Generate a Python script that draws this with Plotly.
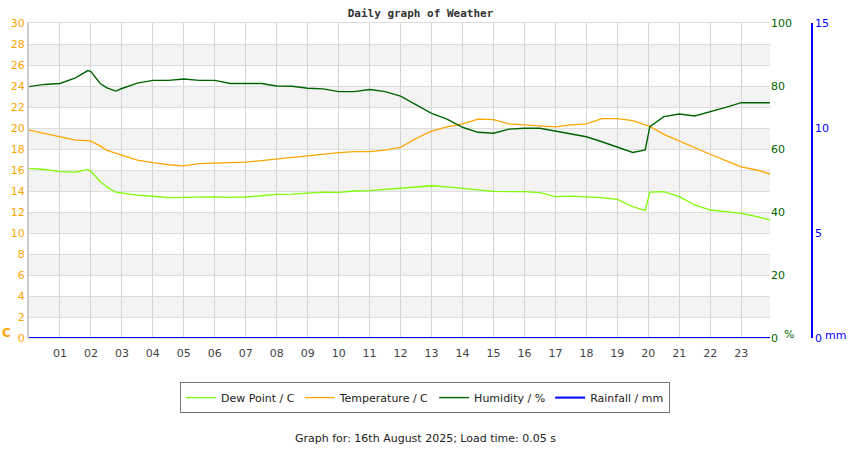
import plotly.graph_objects as go

# readings, hours since midnight
hours = [0, 0.5, 1, 1.5, 1.9, 2, 2.3, 2.5, 2.8, 3, 3.5, 4, 4.5, 5, 5.5, 6, 6.5, 7, 7.5, 8,
         8.5, 9, 9.5, 10, 10.5, 11, 11.5, 12, 12.5, 13, 13.5, 14, 14.5, 15, 15.5, 16, 16.5,
         17, 17.5, 18, 18.5, 19, 19.5, 19.9, 20.05, 20.5, 21, 21.5, 22, 22.5, 23, 23.5, 23.95]

temperature_c = [19.8, 19.5, 19.2, 18.85, 18.8, 18.75, 18.3, 17.9, 17.6, 17.4, 16.95, 16.7, 16.5,
                 16.4, 16.6, 16.65, 16.7, 16.75, 16.9, 17.05, 17.25, 17.35, 17.55, 17.65, 17.75,
                 17.75, 17.9, 18.15, 19.0, 19.7, 20.1, 20.4, 20.85, 20.8, 20.4, 20.3, 20.15, 20.1,
                 20.3, 20.4, 20.9, 20.9, 20.7, 20.3, 20.15, 19.4, 18.75, 18.1, 17.5, 16.9, 16.3,
                 16.0, 15.6]

dew_point_c = [16.15, 16.05, 15.85, 15.8, 16.05, 15.85, 14.9, 14.4, 13.9, 13.8, 13.6, 13.5, 13.37,
               13.4, 13.45, 13.45, 13.4, 13.43, 13.55, 13.68, 13.7, 13.78, 13.9, 13.87, 14.0,
               14.03, 14.15, 14.2, 14.38, 14.5, 14.4, 14.25, 14.13, 13.97, 13.94, 13.94, 13.84,
               13.46, 13.52, 13.46, 13.37, 13.2, 12.5, 12.16, 13.9, 13.94, 13.46, 12.67, 12.19,
               12.03, 11.87, 11.55, 11.24]

humidity_pct = [79.8, 80.5, 80.8, 82.6, 84.9, 84.6, 80.8, 79.5, 78.4, 79.2, 80.9, 81.8, 81.8, 82.2,
                81.8, 81.8, 80.8, 80.8, 80.8, 80.0, 79.9, 79.3, 79.1, 78.2, 78.2, 78.9, 78.2, 76.8,
                74.0, 71.3, 69.5, 66.9, 65.3, 65.0, 66.3, 66.6, 66.6, 65.7, 65.0, 63.9, 62.3,
                60.7, 58.9, 59.7, 67.1, 70.3, 71.1, 70.5, 71.8, 73.2, 74.7, 74.7, 74.7]

rainfall_mm = [0] * len(hours)

hour_ticks = list(range(1, 24))
hour_labels = [f"{h:02d}" for h in hour_ticks]

FONT = "DejaVu Sans"
ORANGE = "#ffa500"
GREEN = "#006400"
BLUE = "#0000ff"

fig = go.Figure()
fig.add_trace(go.Scatter(x=hours, y=dew_point_c, name="Dew Point / C",
                         line=dict(color="#7cfc00", width=1.3)))
fig.add_trace(go.Scatter(x=hours, y=temperature_c, name="Temperature / C",
                         line=dict(color=ORANGE, width=1.3)))
fig.add_trace(go.Scatter(x=hours, y=humidity_pct, name="Humidity / %", yaxis="y2",
                         line=dict(color=GREEN, width=1.4)))
fig.add_trace(go.Scatter(x=hours, y=rainfall_mm, name="Rainfall / mm", yaxis="y3",
                         line=dict(color=BLUE, width=2)))

# alternating grey bands
for lo in range(2, 30, 4):
    fig.add_shape(type="rect", xref="x domain", x0=0, x1=1, yref="y", y0=lo, y1=lo + 2,
                  fillcolor="#f3f3f3", line_width=0, layer="below")

xdom = (770 - 29) / (850 - 29 - 38)

fig.update_layout(
    width=850, height=450,
    margin=dict(l=29, r=38, t=23, b=112),
    paper_bgcolor="white", plot_bgcolor="white",
    font=dict(family=FONT, size=11, color="#333"),
    title=dict(text="<b>Daily graph of Weather</b>", x=0.5, xref="paper", y=0.971,
               yanchor="middle",
               font=dict(family="DejaVu Sans Mono", size=11, color="#333")),
    xaxis=dict(domain=[0, xdom], range=[0, 23.93], tickvals=hour_ticks, ticktext=hour_labels,
               showgrid=True, gridcolor="#d4d4d4", gridwidth=1, zeroline=False,
               showline=True, linecolor="#dddddd", mirror=True, ticks="",
               ticklabelstandoff=5, tickfont=dict(color="#444", size=11)),
    yaxis=dict(range=[0, 30], dtick=2, showgrid=True, gridcolor="#dddddd", zeroline=False,
               showline=True, linecolor="#cccccc", linewidth=2, ticks="",
               tickfont=dict(color=ORANGE, size=11)),
    yaxis2=dict(range=[0, 100], dtick=20, overlaying="y", side="right", anchor="x",
                showgrid=False, zeroline=False, showline=False, ticks="",
                tickfont=dict(color=GREEN, size=11)),
    yaxis3=dict(range=[0, 15], dtick=5, overlaying="y", side="right", anchor="free",
                position=1, showgrid=False, zeroline=False, showline=True, linecolor=BLUE,
                linewidth=1.5, ticks="", tickfont=dict(color=BLUE, size=11)),
    legend=dict(orientation="h", x=(425 - 29) / 783, xanchor="center", y=-0.14,
                yanchor="top", bordercolor="#777", borderwidth=1,
                font=dict(size=11, color="#222"), itemwidth=30),
    showlegend=True,
)

fig.add_annotation(text="<b>C</b>", xref="paper", yref="paper", x=(6 - 29) / 783,
                   y=(338 - 333) / 315, xanchor="center", yanchor="middle",
                   showarrow=False, font=dict(color=ORANGE, size=12))
fig.add_annotation(text="%", xref="paper", yref="paper", x=(789 - 29) / 783,
                   y=(338 - 334) / 315, xanchor="center", yanchor="middle",
                   showarrow=False, font=dict(color=GREEN, size=11))
fig.add_annotation(text="mm", xref="paper", yref="paper", x=(835 - 29) / 783,
                   y=(338 - 335) / 315, xanchor="center", yanchor="middle",
                   showarrow=False, font=dict(color=BLUE, size=11))
fig.add_annotation(text="Graph for: 16th August 2025; Load time: 0.05 s", xref="paper",
                   yref="paper", x=(425 - 29) / 783, y=(338 - 438) / 315, showarrow=False,
                   xanchor="center", yanchor="middle", font=dict(color="#222", size=11))

# page margin off so the 850x450 figure sits at the window's corner
fig.write_html("out.html", config={"displayModeBar": False},
               post_script="document.body.style.margin = '0';")
